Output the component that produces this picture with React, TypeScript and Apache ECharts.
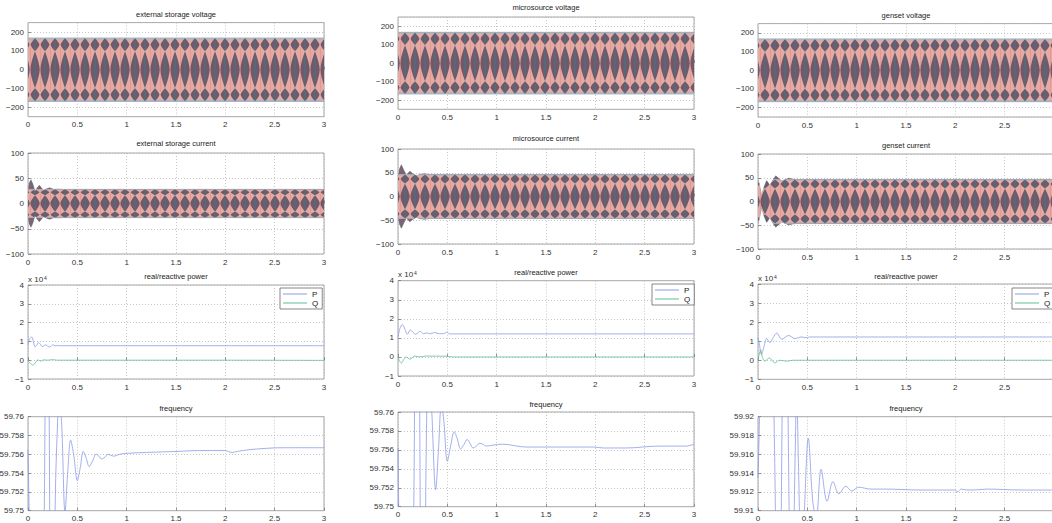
import React, { useEffect, useRef } from "react";
import * as echarts from "echarts";

// ---------------- data ----------------
const timeTicks = [0, 0.5, 1, 1.5, 2, 2.5, 3];
const voltTicks = [-200, -100, 0, 100, 200];
const voltExtent = [-250, 250];
const curTicks = [-100, -50, 0, 50, 100];
const powTicks = [-1, 0, 1, 2, 3, 4];
const freqTicksA = [59.75, 59.752, 59.754, 59.756, 59.758, 59.76];
const freqTicksG = [59.91, 59.912, 59.914, 59.916, 59.918, 59.92];

const titles = [
  ["external storage voltage", "external storage current", "real/reactive power", "frequency"],
  ["microsource voltage", "microsource current", "real/reactive power", "frequency"],
  ["genset voltage", "genset current", "real/reactive power", "frequency"],
];

// voltage envelopes (peak of the three-phase waveform)
const voltT = [0, 3];
const extVoltEnv = [168, 168];
const microVoltEnv = [167, 167];
const gensetVoltEnv = [168, 168];

// current envelopes
const extCurT = [0, 0.012, 0.03, 0.05, 0.07, 0.09, 0.115, 0.135, 0.155, 0.19, 0.22, 0.26, 0.3, 0.35, 3];
const extCurEnv = [24, 40, 47, 38, 24, 30, 36, 31, 26, 29, 31, 28, 28.5, 28, 28];
const microCurT = [0, 0.015, 0.034, 0.06, 0.085, 0.12, 0.15, 0.186, 0.23, 0.27, 0.32, 3];
const microCurEnv = [38, 58, 67, 55, 45, 53, 48, 44, 47, 48, 46.5, 46.5];
const gensetCurT = [0, 0.01, 0.037, 0.06, 0.088, 0.12, 0.15, 0.18, 0.24, 0.31, 0.375, 3];
const gensetCurEnv = [45, 40, 12, 30, 44, 34, 45, 54, 43, 49, 46.5, 46.5];

// real / reactive power (x 10^4)
const extPT = [0, 0.015, 0.037, 0.055, 0.07, 0.09, 0.105, 0.125, 0.145, 0.165, 0.18, 0.2, 0.22, 0.24, 0.257, 0.275, 0.29, 0.32, 0.5, 1, 2, 3];
const extP = [0.82, 1.1, 1.24, 1.0, 0.72, 0.8, 0.95, 0.85, 0.72, 0.78, 0.82, 0.74, 0.7, 0.78, 0.82, 0.76, 0.78, 0.77, 0.77, 0.77, 0.77, 0.77];
const extQT = [0, 0.02, 0.05, 0.08, 0.1, 0.13, 0.16, 0.2, 0.25, 0.3, 2, 3];
const extQ = [0, -0.15, -0.26, -0.1, 0.02, -0.05, 0.02, 0.0, 0.03, 0.0, 0.0, -0.01];

const microPT = [0, 0.02, 0.044, 0.07, 0.095, 0.125, 0.15, 0.18, 0.22, 0.26, 0.29, 0.33, 0.37, 0.42, 0.46, 0.5, 0.52, 0.6, 3];
const microP = [1.05, 1.5, 1.7, 1.45, 1.19, 1.42, 1.3, 1.18, 1.34, 1.22, 1.26, 1.22, 1.28, 1.22, 1.22, 1.3, 1.21, 1.21, 1.21];
const microQT = [0, 0.015, 0.035, 0.06, 0.085, 0.12, 0.17, 0.22, 0.29, 0.39, 0.49, 0.55, 3];
const microQ = [0, -0.2, -0.32, -0.12, 0.0, -0.12, 0.05, 0.0, 0.05, 0.04, 0.04, 0.0, 0.0];

const gensetPT = [0, 0.012, 0.035, 0.06, 0.088, 0.12, 0.155, 0.19, 0.24, 0.31, 0.375, 0.44, 0.5, 0.52, 3];
const gensetP = [1.2, 0.9, 0.3, 0.7, 1.15, 0.92, 1.2, 1.43, 1.1, 1.3, 1.14, 1.22, 1.18, 1.22, 1.22];
const gensetQT = [0, 0.012, 0.027, 0.045, 0.07, 0.115, 0.17, 0.22, 0.29, 0.36, 0.45, 3];
const gensetQ = [0, 0.3, 0.55, 0.15, -0.05, 0.12, -0.14, 0.0, -0.05, 0.0, 0.0, 0.0];

// frequency
const extFT = [0, 0.02, 0.09, 0.165, 0.19, 0.215, 0.245, 0.275, 0.3, 0.315, 0.34, 0.375, 0.405, 0.432, 0.465, 0.5, 0.53, 0.56, 0.59, 0.62, 0.655, 0.69, 0.72, 0.745, 0.78, 0.81, 0.84, 0.87, 0.9, 0.93, 1.0, 1.2, 1.5, 1.74, 2.0, 2.03, 2.07, 2.12, 2.25, 2.59, 3.0];
const extF = [59.7565, 59.745, 59.7, 59.75, 59.8, 59.76, 59.7, 59.75, 59.7595, 59.7612, 59.7595, 59.7499, 59.7545, 59.7575, 59.7558, 59.7532, 59.7546, 59.7563, 59.7556, 59.7547, 59.7553, 59.756, 59.7558, 59.7555, 59.7557, 59.756, 59.7559, 59.7558, 59.7559, 59.756, 59.7561, 59.7562, 59.7563, 59.7564, 59.7564, 59.7563, 59.7562, 59.7563, 59.7565, 59.7567, 59.7567];

const microFT = [0, 0.02, 0.09, 0.16, 0.19, 0.22, 0.25, 0.28, 0.31, 0.34, 0.382, 0.41, 0.44, 0.465, 0.5, 0.535, 0.57, 0.6, 0.635, 0.67, 0.7, 0.73, 0.76, 0.795, 0.83, 0.86, 0.895, 0.96, 1.06, 1.3, 1.98, 2.08, 2.31, 2.65, 2.92, 3.0];
const microF = [59.7562, 59.74, 59.7, 59.75, 59.8, 59.76, 59.7, 59.75, 59.765, 59.7605, 59.7518, 59.756, 59.7608, 59.759, 59.7548, 59.7565, 59.7579, 59.7572, 59.7561, 59.7566, 59.7571, 59.7567, 59.7562, 59.7564, 59.7567, 59.7566, 59.7564, 59.7565, 59.7566, 59.7563, 59.7563, 59.7562, 59.7562, 59.7564, 59.7564, 59.7566];

const gensetFT = [0, 0.015, 0.07, 0.17, 0.205, 0.24, 0.275, 0.31, 0.34, 0.375, 0.392, 0.41, 0.44, 0.47, 0.51, 0.555, 0.59, 0.64, 0.7, 0.76, 0.82, 0.89, 0.95, 1.02, 1.14, 1.3, 1.64, 2.0, 2.02, 2.06, 2.12, 2.18, 2.32, 2.66, 3.0];
const gensetF = [59.9135, 59.92, 59.96, 59.915, 59.87, 59.915, 59.95, 59.915, 59.895, 59.915, 59.9225, 59.915, 59.903, 59.91, 59.9177, 59.911, 59.9092, 59.9144, 59.911, 59.9131, 59.9118, 59.9126, 59.9121, 59.9125, 59.9123, 59.9123, 59.9122, 59.9122, 59.912, 59.9123, 59.9122, 59.9122, 59.9123, 59.9122, 59.9122];

// ---------------- layout / style ----------------
const FONT = '"Liberation Sans", Arial, Helvetica, sans-serif';
const LABEL = "#333";
const SPLIT = "#b8b8b8";
const P_COLOR = "#8d9be6";
const Q_COLOR = "#5fbf96";
const F_COLOR = "#8d9be6";
const DARK = "#6e5a6a";
const PINK = "#e4aba4";
const EDGE = "#a9b4c4";

const colLeft = [28, 398, 758];
const colWidth = 296;
const gridTop = [
  [22.6, 153, 285, 416.7],
  [17, 149, 280.7, 412],
  [23.6, 154, 284, 416.7],
];
const gridBottom = [
  [116.7, 254, 379, 510.7],
  [109.3, 244, 376, 506.7],
  [117, 249, 379.3, 510.7],
];
const titleY = [
  [14, 143, 276, 408],
  [7, 138, 272, 404],
  [15, 145, 276, 408],
];
const legendPos = [
  [280, 288],
  [652, 284],
  [1012, 288],
];

const zip = (t: number[], v: number[]) => t.map((x, i) => [x, v[i]]);
const minus = (v: number | string) => String(v).replace("-", "\u2212");

function bandGradient() {
  return new echarts.graphic.LinearGradient(0, 0, 0, 1, [
    { offset: 0, color: "#aab6c6" },
    { offset: 0.025, color: "#8d8798" },
    { offset: 0.07, color: "#6f5a6b" },
    { offset: 0.14, color: "#7a6270" },
    { offset: 0.22, color: "#d29a98" },
    { offset: 0.28, color: "#e6aaa2" },
    { offset: 0.34, color: "#d29a98" },
    { offset: 0.41, color: "#7d6472" },
    { offset: 0.5, color: "#6b5667" },
    { offset: 0.59, color: "#7d6472" },
    { offset: 0.66, color: "#d29a98" },
    { offset: 0.72, color: "#e6aaa2" },
    { offset: 0.78, color: "#d29a98" },
    { offset: 0.86, color: "#7a6270" },
    { offset: 0.93, color: "#6f5a6b" },
    { offset: 0.975, color: "#8d8798" },
    { offset: 1, color: "#aab6c6" },
  ]);
}

// texture tile (aliased three-phase waveform look), aligned to band pixels
function makeTexture(yTop: number, yBot: number) {
  try {
    const W = 10;
    const H = 540;
    const cv = document.createElement("canvas");
    cv.width = W;
    cv.height = H;
    const g = cv.getContext("2d");
    if (!g) return null;
    const h = (yBot - yTop) / 2;
    const yC = (yTop + yBot) / 2;
    g.fillStyle = "#7d6472";
    g.fillRect(0, 0, W, H);
    g.fillStyle = PINK;
    g.fillRect(0, yTop, W, yBot - yTop);
    g.fillStyle = EDGE;
    g.fillRect(0, yTop, W, 0.05 * h);
    g.fillRect(0, yBot - 0.05 * h, W, 0.05 * h);
    try {
      (g as any).filter = "blur(0.6px)";
    } catch (e) {
      /* ignore */
    }
    const diamond = (cx: number, cy: number, hw: number, hh: number) => {
      g.beginPath();
      g.moveTo(cx, cy - hh);
      g.quadraticCurveTo(cx + hw * 0.9, cy - hh * 0.35, cx + hw, cy);
      g.quadraticCurveTo(cx + hw * 0.9, cy + hh * 0.35, cx, cy + hh);
      g.quadraticCurveTo(cx - hw * 0.9, cy + hh * 0.35, cx - hw, cy);
      g.quadraticCurveTo(cx - hw * 0.9, cy - hh * 0.35, cx, cy - hh);
      g.closePath();
      g.fill();
    };
    g.fillStyle = DARK;
    diamond(W / 2, yC, 0.48 * W, 0.58 * h);
    diamond(W / 2, yTop + 0.21 * h, 0.44 * W, 0.2 * h);
    diamond(W / 2, yBot - 0.21 * h, 0.44 * W, 0.2 * h);
    g.fillStyle = "rgba(40,140,150,0.5)";
    g.fillRect(W / 2 - 0.5, yTop + 0.03 * h, 1, 0.36 * h);
    g.fillRect(W / 2 - 0.5, yBot - 0.39 * h, 1, 0.36 * h);
    g.fillRect(W / 2 - 0.5, yC - 0.4 * h, 1, 0.8 * h);
    g.fillStyle = "rgba(235,120,120,0.4)";
    g.fillRect(0, yTop + 0.3 * h, 1, 1.4 * h);
    return { image: cv, repeat: "repeat", imageWidth: W, imageHeight: H };
  } catch (e) {
    return null;
  }
}

function bandSeries(i: number, t: number[], env: number[]) {
  return {
    type: "custom",
    coordinateSystem: "cartesian2d",
    xAxisIndex: i,
    yAxisIndex: i,
    silent: true,
    clip: true,
    encode: { x: 0, y: 1 },
    data: zip(t, env).concat(zip(t, env.map((v) => -v))),
    z: 2,
    renderItem: (params: any, api: any) => {
      if (params.dataIndex !== 0) return null;
      const upper = t.map((x, k) => api.coord([x, env[k]]));
      const lower = t.map((x, k) => api.coord([x, -env[k]])).reverse();
      const pts = upper.concat(lower);
      const steady = env[env.length - 1];
      const yTop = api.coord([t[0], steady])[1];
      const yBot = api.coord([t[0], -steady])[1];
      const tex = makeTexture(yTop, yBot);
      const children: any[] = [
        {
          type: "polygon",
          shape: { points: pts },
          style: { fill: bandGradient(), stroke: "#8aa7b8", lineWidth: 0.8 },
        },
      ];
      if (tex) {
        children.push({
          type: "polygon",
          shape: { points: pts },
          style: { fill: tex },
        });
      }
      return { type: "group", children };
    },
  };
}

function buildOption() {
  const grid: any[] = [];
  const xAxis: any[] = [];
  const yAxis: any[] = [];
  const series: any[] = [];
  const graphic: any[] = [];
  const legend: any[] = [];

  const bands = [
    [[voltT, extVoltEnv], [extCurT, extCurEnv]],
    [[voltT, microVoltEnv], [microCurT, microCurEnv]],
    [[voltT, gensetVoltEnv], [gensetCurT, gensetCurEnv]],
  ];
  const powers = [
    [extPT, extP, extQT, extQ],
    [microPT, microP, microQT, microQ],
    [gensetPT, gensetP, gensetQT, gensetQ],
  ];
  const freqs = [
    [extFT, extF, freqTicksA],
    [microFT, microF, freqTicksA],
    [gensetFT, gensetF, freqTicksG],
  ];

  for (let c = 0; c < 3; c++) {
    for (let r = 0; r < 4; r++) {
      const i = grid.length;
      const top = gridTop[c][r];
      const h = gridBottom[c][r] - top;
      grid.push({
        left: colLeft[c],
        top,
        width: colWidth,
        height: h,
        show: true,
        borderColor: "#8f8f8f",
        borderWidth: 0.8,
        backgroundColor: "#fff",
        outerBoundsMode: "none",
        containLabel: false,
      });
      xAxis.push({
        type: "value",
        gridIndex: i,
        min: timeTicks[0],
        max: timeTicks[timeTicks.length - 1],
        interval: timeTicks[1] - timeTicks[0],
        axisLine: { show: false },
        axisTick: { show: true, inside: true, length: 3, lineStyle: { color: "#777", width: 0.8 } },
        axisLabel: {
          fontSize: 8,
          color: LABEL,
          margin: 4,
          fontFamily: FONT,
          showMinLabel: true,
          showMaxLabel: c !== 2,
          hideOverlap: false,
        },
        splitLine: { show: true, lineStyle: { color: SPLIT, type: [1, 2], width: 0.8 } },
      });
      const yBase: any = {
        type: "value",
        gridIndex: i,
        axisLine: { show: false },
        axisTick: { show: true, inside: true, length: 3, lineStyle: { color: "#777", width: 0.8 } },
        axisLabel: { fontSize: 8, color: LABEL, margin: 4, fontFamily: FONT, formatter: minus, hideOverlap: false },
        splitLine: { show: true, lineStyle: { color: SPLIT, type: [1, 2], width: 0.8 } },
      };
      if (r === 0) {
        Object.assign(yBase, {
          min: voltExtent[0],
          max: voltExtent[1],
          splitNumber: voltTicks.length,
        });
        yBase.axisLabel = { ...yBase.axisLabel, showMinLabel: false, showMaxLabel: false };
      } else if (r === 1) {
        Object.assign(yBase, {
          min: curTicks[0],
          max: curTicks[curTicks.length - 1],
          interval: curTicks[1] - curTicks[0],
        });
      } else if (r === 2) {
        Object.assign(yBase, {
          min: powTicks[0],
          max: powTicks[powTicks.length - 1],
          interval: powTicks[1] - powTicks[0],
          name: "{a|x 10}{b|4}",
          nameLocation: "end",
          nameGap: 2,
          nameMoveOverlap: false,
          nameTextStyle: {
            align: "left",
            verticalAlign: "bottom",
            rich: {
              a: { fontSize: 8, color: LABEL, fontFamily: FONT },
              b: { fontSize: 5, color: LABEL, fontFamily: FONT, verticalAlign: "top", padding: [0, 0, 0, 1] },
            },
          },
        });
      } else {
        const ft = freqs[c][2] as number[];
        Object.assign(yBase, {
          min: ft[0],
          max: ft[ft.length - 1],
          interval: 0.002,
        });
        yBase.axisLabel = {
          ...yBase.axisLabel,
          formatter: (v: number) => String(parseFloat(v.toFixed(3))),
        };
      }
      yAxis.push(yBase);

      graphic.push({
        type: "text",
        x: colLeft[c] + colWidth / 2,
        y: titleY[c][r],
        silent: true,
        style: {
          text: titles[c][r],
          fill: "#222",
          font: `7.5px ${FONT}`,
          align: "center",
          verticalAlign: "middle",
          textAlign: "center",
          textVerticalAlign: "middle",
        },
      });

      if (r <= 1) {
        const [t, env] = bands[c][r] as number[][];
        series.push(bandSeries(i, t, env));
      } else if (r === 2) {
        const [pt, p, qt, q] = powers[c];
        series.push({
          type: "line",
          name: "P",
          xAxisIndex: i,
          yAxisIndex: i,
          data: zip(pt, p),
          symbol: "none",
          smooth: 0.3,
          color: P_COLOR,
          lineStyle: { color: P_COLOR, width: 0.8 },
        });
        series.push({
          type: "line",
          name: "Q",
          xAxisIndex: i,
          yAxisIndex: i,
          data: zip(qt, q),
          symbol: "none",
          smooth: 0.3,
          color: Q_COLOR,
          lineStyle: { color: Q_COLOR, width: 0.8 },
        });
        legend.push({
          left: legendPos[c][0],
          top: legendPos[c][1],
          orient: "vertical",
          data: ["P", "Q"],
          icon: "rect",
          itemWidth: 24,
          itemHeight: 1,
          itemGap: 1,
          padding: [2, 4, 2, 3],
          borderColor: "#555",
          borderWidth: 0.7,
          borderRadius: 0,
          backgroundColor: "#fff",
          selectedMode: false,
          textStyle: { fontSize: 8, color: "#222", fontFamily: FONT, padding: [0, 0, 0, 0] },
        });
      } else {
        const [ft, fv] = freqs[c] as number[][];
        series.push({
          type: "line",
          xAxisIndex: i,
          yAxisIndex: i,
          data: zip(ft, fv),
          symbol: "none",
          smooth: 0.35,
          clip: true,
          silent: true,
          lineStyle: { color: F_COLOR, width: 0.8 },
        });
      }
    }
  }

  return {
    animation: false,
    backgroundColor: "#fff",
    textStyle: { fontFamily: FONT },
    grid,
    xAxis,
    yAxis,
    series,
    legend,
    graphic,
  };
}

export default function App() {
  const ref = useRef<HTMLDivElement>(null);
  useEffect(() => {
    const chart = echarts.init(ref.current!, null, { renderer: "svg" });
    chart.setOption(buildOption() as any);
    return () => chart.dispose();
  }, []);
  return (
    <div
      ref={ref}
      style={{ position: "fixed", left: 0, top: 0, width: 1052, height: 523, background: "#fff" }}
    />
  );
}
